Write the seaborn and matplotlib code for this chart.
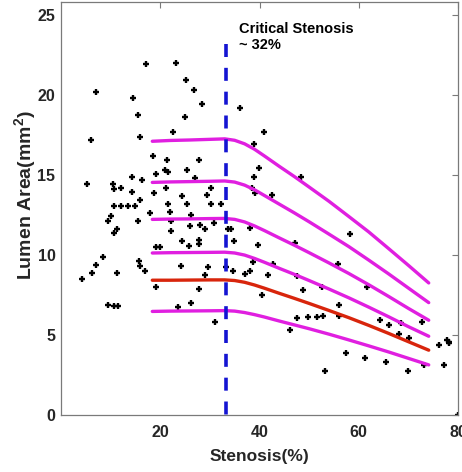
import numpy as np
import pandas as pd
import matplotlib
matplotlib.use("Agg")
import matplotlib.pyplot as plt
import seaborn as sns

# ---------------- data ----------------
scatter_x = [17.1, 23.1, 7.0, 25.1, 26.9, 14.5, 28.5, 15.5, 25.0, 6.1,
             16.0, 22.6, 18.6, 21.4, 27.8, 5.3, 10.4, 10.7, 12.1, 14.3,
             14.3, 16.4, 19.1, 20.9, 21.5, 25.4, 21.1, 18.8, 24.4, 30.2,
             29.4, 10.6, 12.1, 13.5, 14.9, 16.0, 21.5, 25.3, 30.2, 32.2,
             9.5, 10.0, 15.6, 18.0, 21.9, 22.1, 26.2, 25.9, 28.1, 29.1,
             30.8, 33.7, 11.2, 10.6, 22.2, 27.1, 8.4, 7.0, 6.3, 4.2,
             11.2, 15.7, 16.0, 17.0, 9.5, 10.6, 11.4, 19.1, 20.0, 24.4,
             25.7, 27.8, 27.9, 24.1, 29.7, 29.1, 33.3, 19.1, 27.8, 23.5,
             26.1, 31.0,
             36.1, 40.9, 38.9, 39.8, 38.9, 48.3, 38.5, 39.0, 42.6, 34.3,
             38.1, 58.2, 39.6, 47.1, 34.9, 34.6, 37.0, 38.0, 38.7, 42.8,
             41.8, 47.5, 48.7, 40.5, 52.5, 55.9, 56.0, 56.0, 61.6, 47.6,
             49.8, 51.5, 52.7, 46.1, 64.3, 66.0, 68.5, 68.2, 70.1, 72.7,
             57.5, 61.3, 65.5, 53.1, 70.0, 73.1, 76.1, 77.2, 77.8, 78.1,
             78.2, 79.9]
scatter_y = [21.9, 22.0, 20.2, 20.9, 20.3, 19.8, 19.4, 18.76, 18.6, 17.2,
             17.36, 17.65, 16.2, 15.9, 15.9, 14.4, 14.45, 14.1, 14.2, 13.9,
             14.85, 14.66, 15.08, 15.3, 15.2, 15.3, 14.2, 13.87, 13.7, 14.2,
             13.75, 13.04, 13.04, 13.04, 13.04, 13.4, 13.2, 13.2, 13.2, 13.2,
             12.15, 12.45, 12.1, 12.6, 12.7, 12.1, 12.5, 11.8, 11.9, 11.65,
             12.0, 11.65, 11.6, 11.4, 11.5, 14.8, 9.84, 9.4, 8.86, 8.48,
             8.86, 9.65, 9.3, 9.0, 6.9, 6.8, 6.8, 10.5, 10.5, 10.85,
             10.54, 10.96, 10.7, 9.3, 9.23, 8.73, 9.25, 7.98, 7.88, 6.72,
             7.0, 5.82,
             19.15, 17.7, 16.95, 15.43, 14.87, 14.87, 14.2, 13.87, 13.72, 11.6,
             11.7, 11.3, 10.65, 10.75, 10.85, 8.98, 8.78, 8.98, 9.56, 9.46,
             8.73, 8.71, 7.78, 7.47, 8.0, 9.46, 6.9, 6.2, 8.0, 6.07,
             6.1, 6.1, 6.2, 5.28, 5.93, 5.6, 5.72, 5.03, 4.82, 5.8,
             3.85, 3.56, 3.29, 2.77, 2.72, 3.1, 4.37, 3.1, 4.66, 4.47,
             4.55, 0.0]

curve_x = [18.4, 22, 26, 30, 33, 35, 37, 39, 41, 44, 47, 50, 54, 58, 62, 66, 70, 74.1]
curve_6 = [17.1, 17.15, 17.18, 17.22, 17.25, 17.16, 16.94, 16.6, 16.18, 15.53, 14.9, 14.24, 13.35, 12.4, 11.44, 10.4, 9.35, 8.25]
curve_5 = [14.53, 14.56, 14.58, 14.6, 14.62, 14.55, 14.36, 14.07, 13.71, 13.17, 12.63, 12.07, 11.3, 10.52, 9.68, 8.82, 7.93, 7.02]
curve_4 = [12.22, 12.24, 12.25, 12.27, 12.28, 12.22, 12.06, 11.81, 11.52, 11.06, 10.61, 10.14, 9.5, 8.84, 8.14, 7.41, 6.66, 5.92]
curve_3 = [10.12, 10.14, 10.15, 10.16, 10.17, 10.12, 9.99, 9.78, 9.54, 9.16, 8.79, 8.4, 7.87, 7.32, 6.74, 6.14, 5.52, 4.92]
curve_red = [8.42, 8.42, 8.43, 8.44, 8.44, 8.4, 8.29, 8.12, 7.92, 7.6, 7.29, 6.97, 6.53, 6.08, 5.6, 5.1, 4.58, 4.05]
curve_1 = [6.47, 6.49, 6.5, 6.51, 6.52, 6.49, 6.4, 6.27, 6.12, 5.87, 5.63, 5.39, 5.05, 4.69, 4.32, 3.94, 3.54, 3.13]

critical_x = 33.3
critical_top = 23.2
x_ticks = [20, 40, 60, 80]
y_ticks = [0, 5, 10, 15, 20, 25]
annotation = "Critical Stenosis\n~ 32%"
x_label = "Stenosis(%)"
y_label = "Lumen Area(mm$^2$)"

# ---------------- style ----------------
sns.set_style("white")
plt.rcParams["font.family"] = ["Liberation Sans", "DejaVu Sans"]
plt.rcParams["mathtext.fontset"] = "custom"
plt.rcParams["mathtext.rm"] = "Liberation Sans:bold"
plt.rcParams["mathtext.it"] = "Liberation Sans:bold"
plt.rcParams["mathtext.bf"] = "Liberation Sans:bold"

fig = plt.figure(figsize=(4.62, 4.72), dpi=100)
ax = fig.add_axes([61 / 462, 57 / 472, 397 / 462, 413 / 472])

pts = pd.DataFrame({"x": scatter_x, "y": scatter_y})
sns.scatterplot(data=pts, x="x", y="y", marker="+", color="black", s=20,
                linewidth=1.7, ax=ax, zorder=2, legend=False)

names = ["c6", "c5", "c4", "c3", "red", "c1"]
series = [curve_6, curve_5, curve_4, curve_3, curve_red, curve_1]
rows = []
for n, s in zip(names, series):
    for xv, yv in zip(curve_x, s):
        rows.append({"x": xv, "y": yv, "curve": n})
curves = pd.DataFrame(rows)
mag = "#e01fe0"
palette = {"c6": mag, "c5": mag, "c4": mag, "c3": mag, "red": "#d8250c", "c1": mag}
sns.lineplot(data=curves, x="x", y="y", hue="curve", palette=palette,
             linewidth=2.4, ax=ax, legend=False, sort=True, estimator=None,
             zorder=3)

ax.plot([critical_x, critical_x], [critical_top, 0], color="#1414d2",
        linewidth=2.6, linestyle=(0, (3.6, 3.0)), zorder=4,
        dash_capstyle="butt")

ax.text(35.8, 24.55, annotation, fontsize=10.5, fontweight="bold",
        ha="left", va="top", color="black", linespacing=1.2)

ax.set_xlim(0, 80)
ax.set_ylim(0, 25.8)
ax.set_xticks(x_ticks)
ax.set_yticks(y_ticks)
ax.set_xlabel("")
ax.set_ylabel("")
ax.tick_params(direction="in", length=4, width=0.8, colors="#7a7a7a",
               labelcolor="#262626", labelsize=11.5, top=True, right=True)
ax.tick_params(axis="x", pad=7)
ax.tick_params(axis="y", pad=4)
for lab in ax.get_xticklabels() + ax.get_yticklabels():
    lab.set_fontweight("bold")
for sp in ax.spines.values():
    sp.set_visible(True)
    sp.set_color("#7a7a7a")
    sp.set_linewidth(0.9)

fig.text(259.5 / 462, 1 - 456 / 472, x_label, fontsize=12.5, fontweight="bold",
         ha="center", va="center", color="#262626")
fig.text(25 / 462, 1 - 195 / 472, y_label, fontsize=14, fontweight="bold",
         ha="center", va="center", rotation=90, color="#262626")

fig.savefig("out.png", dpi=100)
